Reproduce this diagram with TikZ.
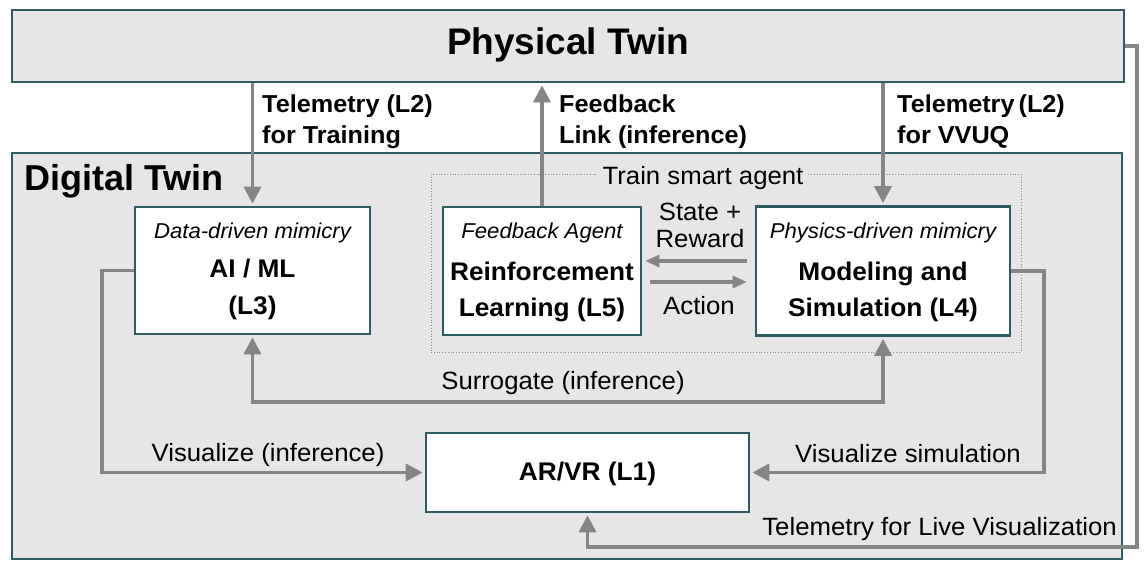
\documentclass[tikz,border=0pt]{standalone}
\usepackage{fontspec}
\setmainfont{Liberation Sans}[FakeStretch=1.03]
\newfontfamily\plainfont{Liberation Sans}
\usetikzlibrary{arrows.meta}
\definecolor{boxfill}{HTML}{E6E6E6}
\definecolor{tealedge}{HTML}{2E5C63}
\definecolor{arrowgray}{HTML}{858585}
\definecolor{dotgray}{HTML}{8A8A8A}
\tikzset{
  frame/.style={draw=tealedge, line width=2.7pt, fill=boxfill, inner sep=0pt},
  wbox/.style={draw=tealedge, line width=2.7pt, fill=white, inner sep=0pt},
  conn/.style={draw=arrowgray, line width=3.7pt, -{Triangle[length=17pt,width=17pt]}, shorten >=2pt},
  biconn/.style={draw=arrowgray, line width=3.7pt, {Triangle[length=17pt,width=17pt]}-{Triangle[length=17pt,width=17pt]}, shorten >=2pt, shorten <=2pt},
  sconn/.style={draw=arrowgray, line width=3.2pt, -{Triangle[length=14pt,width=12pt]}},
  txt/.style={anchor=base, inner sep=0pt, font=\fontsize{25}{28}\selectfont},
  btxt/.style={anchor=base, inner sep=0pt, font=\fontsize{24.5}{28}\selectfont\bfseries},
  boxb/.style={anchor=base, inner sep=0pt, font=\fontsize{25.5}{28}\selectfont\bfseries},
  boxi/.style={anchor=base, inner sep=0pt, font=\fontsize{21.5}{24}\selectfont\itshape},
}
\begin{document}
\begin{tikzpicture}[x=1pt,y=-1pt]
\useasboundingbox (0,0) rectangle (1144,566);
\fill[white] (0,0) rectangle (1144,566);

% main frames
\node[frame, minimum width=1112pt, minimum height=72pt] (pt) at (568,46) {};
\node[anchor=base, inner sep=0pt, font=\plainfont\fontsize{37}{40}\selectfont\bfseries] (ptlbl) at (568,54) {Physical Twin};

\node[frame, minimum width=1110pt, minimum height=406pt] (dt) at (567,356) {};
\node[anchor=base west, inner sep=0pt, font=\plainfont\fontsize{36}{40}\selectfont\bfseries] (dtlbl) at (24,190) {Digital Twin};

% dotted training group
\node[draw=dotgray, dotted, line width=0.8pt, inner sep=0pt, minimum width=590pt, minimum height=178pt] (train) at (726,263) {};
\node[txt, fill=boxfill, inner xsep=5pt, inner ysep=4pt] (trainlbl) at (703,184) {Train smart agent};

% boxes
\node[wbox, minimum width=235pt, minimum height=127pt] (ai) at (252.5,270.5) {};
\node[wbox, minimum width=198pt, minimum height=128pt] (rl) at (542,271) {};
\node[wbox, minimum width=254pt, minimum height=129pt] (ms) at (883,271) {};
\node[wbox, minimum width=323pt, minimum height=79pt] (ar) at (587.5,472.5) {};

% box texts
\node[boxi] (ai1) at (252.5,238) {Data-driven mimicry};
\node[boxb] (ai2) at (252.5,277) {AI / ML};
\node[boxb] (ai3) at (252.5,314) {(L3)};
\node[boxi] (rl1) at (542,238) {Feedback Agent};
\node[boxb] (rl2) at (542,280) {Reinforcement};
\node[boxb] (rl3) at (542,316) {Learning (L5)};
\node[boxi] (ms1) at (883,238) {Physics-driven mimicry};
\node[boxb] (ms2) at (883,280) {Modeling and};
\node[boxb] (ms3) at (883,316) {Simulation (L4)};
\node[boxb] (ar1) at (587.5,480) {AR/VR (L1)};

% connector coordinates
\coordinate (sg) at (0,402);
\coordinate (vl) at (102,472);
\coordinate (vr) at (1044,472);
\coordinate (lv) at (1137,547);

% physical <-> digital
\draw[conn] (pt.south -| ai.north) -- (ai.north);
\draw[conn] (rl.north) -- (rl.north |- pt.south);
\draw[conn] (pt.south -| ms.north) -- (ms.north);

% RL <-> M&S
\draw[sconn, shorten <=8pt, shorten >=3pt] ([yshift=10pt]ms.west) -- ([yshift=10pt]ms.west -| rl.east);
\draw[sconn, shorten <=8pt, shorten >=8pt] ([yshift=-11pt]rl.east) -- ([yshift=-11pt]rl.east -| ms.west);

% surrogate
\draw[biconn] (ai.south) -- (ai.south |- sg) -- (ms.south |- sg) -- (ms.south);

% visualize
\draw[conn] (ai.west) -| (vl |- ar.west) -- (ar.west);
\draw[conn] (ms.east) -| (vr |- ar.east) -- (ar.east);

% live telemetry
\draw[conn] (pt.east) -| (lv) -| (ar.south);

% connector labels
\node[btxt, anchor=base west] (l1a) at (262,112) {Telemetry (L2)};
\node[btxt, anchor=base west] (l1b) at (262,143) {for Training};
\node[btxt, anchor=base west] (l2a) at (559,112) {Feedback};
\node[btxt, anchor=base west] (l2b) at (559,143) {Link (inference)};
\node[btxt, anchor=base west] (l3a) at (897,112) {Telemetry\,(L2)};
\node[btxt, anchor=base west] (l3b) at (897,143) {for VVUQ};
\node[txt] (sr1) at (700,220) {State +};
\node[txt] (sr2) at (700,247) {Reward};
\node[txt] (act) at (699,314) {Action};
\node[txt] (surr) at (563,389) {Surrogate (inference)};
\node[txt] (vinf) at (268,461) {Visualize (inference)};
\node[txt] (vsim) at (908,462) {Visualize simulation};
\node[txt, anchor=base east] (live) at (1117,535) {Telemetry for Live Visualization};
\end{tikzpicture}
\end{document}
